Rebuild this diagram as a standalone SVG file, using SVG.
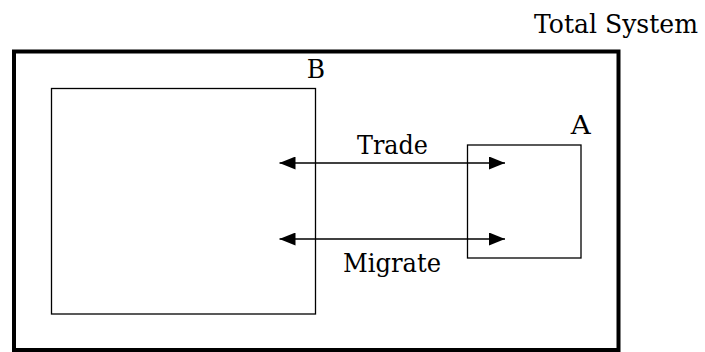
<svg xmlns="http://www.w3.org/2000/svg" width="705" height="352" viewBox="0 0 705 352">
  <style>
    text { font-family: 'DejaVu Serif', serif; font-size: 26.5px; fill: #000; }
    .box { fill: none; stroke: #000; stroke-width: 1.3; }
    .outer { fill: none; stroke: #000; stroke-width: 4; }
    .flow { stroke: #000; stroke-width: 1.6; fill: none; marker-start: url(#head); marker-end: url(#head); }
  </style>
  <defs>
    <marker id="head" viewBox="0 0 16 13" refX="16" refY="6.5" markerWidth="16" markerHeight="13" markerUnits="userSpaceOnUse" orient="auto-start-reverse">
      <path d="M0,0 L16,6.5 L0,13 Z" fill="#000"/>
    </marker>
  </defs>
  <rect width="705" height="352" fill="#fff"/>

  <!-- whole system boundary -->
  <g id="total-system">
    <rect class="outer" x="14" y="51.5" width="604.5" height="298.5"/>
    <text x="534" y="32.5" textLength="164" lengthAdjust="spacingAndGlyphs">Total System</text>
  </g>

  <!-- region B -->
  <g id="node-b">
    <rect class="box" x="51.5" y="88.5" width="264" height="225.5"/>
    <text x="306.7" y="78.3" textLength="18.3" lengthAdjust="spacingAndGlyphs">B</text>
  </g>

  <!-- region A -->
  <g id="node-a">
    <rect class="box" x="467.5" y="145" width="113.5" height="113"/>
    <text x="570.7" y="134.3" textLength="20" lengthAdjust="spacingAndGlyphs">A</text>
  </g>

  <!-- exchanges between B and A -->
  <g id="connectors">
    <line class="flow" x1="279.5" y1="163" x2="505" y2="163"/>
    <text x="357" y="154" textLength="71" lengthAdjust="spacingAndGlyphs">Trade</text>
    <line class="flow" x1="279.5" y1="239" x2="505" y2="239"/>
    <text x="343" y="271.7" textLength="98" lengthAdjust="spacingAndGlyphs">Migrate</text>
  </g>
</svg>
